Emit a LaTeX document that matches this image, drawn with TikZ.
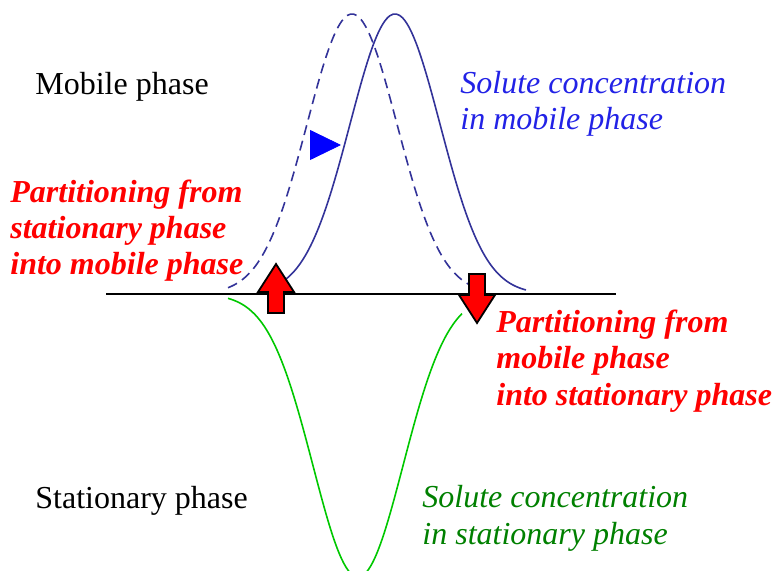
\documentclass[tikz,border=0pt]{standalone}
\usepackage{fontspec}
\setmainfont{Liberation Serif}
\usetikzlibrary{arrows.meta,positioning}

\definecolor{curveblue}{RGB}{51,51,153}
\definecolor{textblue}{RGB}{34,34,230}
\definecolor{curvegreen}{RGB}{0,200,0}
\definecolor{textgreen}{RGB}{0,128,0}

\begin{document}
\begin{tikzpicture}[
    x=0.5pt, y=-0.5pt,
    every node/.style={font=\fontsize{16}{18.2}\selectfont, inner sep=0pt, align=left},
    txt/.style={anchor=base west},
    parttxt/.style={txt, text=red, font=\fontsize{16}{18.2}\selectfont\bfseries\itshape},
    conc/.style={txt, font=\fontsize{16}{18.2}\selectfont\itshape},
    peak/.style={curveblue, line width=0.8pt, smooth, samples=80},
    redarr/.style={draw=black, fill=red, line width=0.9pt, line join=miter},
    flowarr/.pic={\path[redarr] (0,0) -- (18,28) -- (8,28) -- (8,49) -- (-8,49) -- (-8,28) -- (-18,28) -- cycle;}
  ]
    \useasboundingbox (0,0) rectangle (775,571);
    % interface between the two phases
    \coordinate (ifl) at (106,294);
    \coordinate (ifr) at (616,294);
    \draw[line width=0.9pt] (ifl) -- (ifr);
    % concentration profiles
    \draw[peak, dashed, dash pattern=on 5pt off 3pt] plot[domain=228:470] (\x, {294-280*exp(-((\x-352)/45)^2/2)});
    \draw[peak] plot[domain=270:526] (\x, {294-280*exp(-((\x-395)/45)^2/2)});
    \draw[curvegreen, line width=0.8pt, smooth, samples=80] plot[domain=228:462] (\x, {294+283*exp(-((\x-358)/45)^2/2)});
    % movement of the band
    \coordinate (from) at (310,145);
    \coordinate (to) at (341,145);
    \draw[-{Triangle[length=15.5pt, width=15pt]}, blue] (from) -- (to);
    % exchange between the phases
    \pic at (276,264) {flowarr};
    \pic[rotate=180] at (477,323) {flowarr};
    % labels (multi-line nodes sit on their last line)
    \node[txt] (mob) at (35,95) {Mobile phase};
    \node[txt] (stat) at (35,508) {Stationary phase};
    \node[conc, text=textblue] (cmob) at (460,130) {Solute concentration\\in mobile phase};
    \node[conc, text=textgreen] (cstat) at (422,544) {Solute concentration\\in stationary phase};
    \node[parttxt] (pup) at (10,275) {Partitioning from\\stationary phase\\into mobile phase};
    \node[parttxt] (pdown) at (496,405) {Partitioning from\\mobile phase\\into stationary phase};
  \end{tikzpicture}
\end{document}
